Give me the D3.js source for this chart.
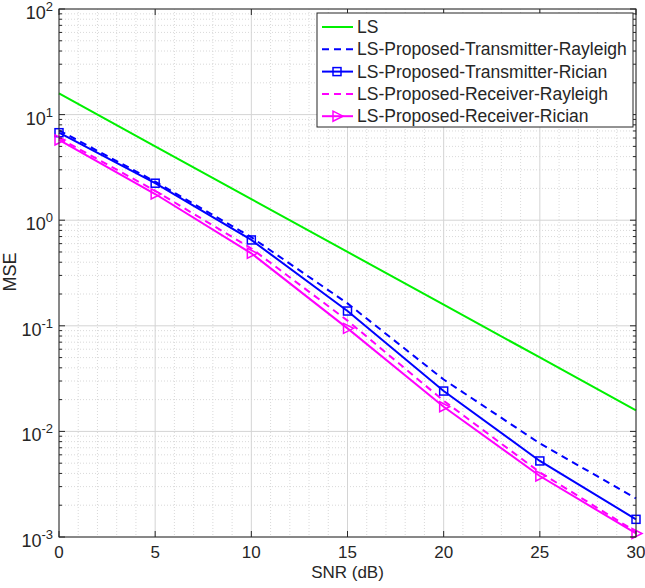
<!DOCTYPE html>
<html>
<head>
<meta charset="utf-8">
<script src="https://cdn.jsdelivr.net/npm/d3@7/dist/d3.min.js"></script>
<style>
  body { margin: 0; background: #fff; }
  text { font-family: "Liberation Sans", Arial, sans-serif; fill: #262626; }
</style>
</head>
<body>
<div class="chart"></div>
<script>
// data
var snr = [0, 5, 10, 15, 20, 25, 30];
var ls = [15.85, 5.01, 1.585, 0.501, 0.1585, 0.0501, 0.01585];
var txRayleigh = [7.1, 2.32, 0.69, 0.163, 0.031, 0.0077, 0.00232];
var txRician = [6.74, 2.24, 0.65, 0.138, 0.0241, 0.00525, 0.00147];
var rxRayleigh = [6.0, 1.9, 0.54, 0.112, 0.0195, 0.0041, 0.00112];
var rxRician = [5.75, 1.77, 0.486, 0.0946, 0.0171, 0.00378, 0.00108];

var seriesNames = [
  "LS",
  "LS-Proposed-Transmitter-Rayleigh",
  "LS-Proposed-Transmitter-Rician",
  "LS-Proposed-Receiver-Rayleigh",
  "LS-Proposed-Receiver-Rician"
];
var xTicks = [0, 5, 10, 15, 20, 25, 30];
var yExponents = [-3, -2, -1, 0, 1, 2];

var series = [
  { name: seriesNames[0], values: ls, color: "#00f000", dash: null, marker: null },
  { name: seriesNames[1], values: txRayleigh, color: "#0000ff", dash: "7,5", marker: null },
  { name: seriesNames[2], values: txRician, color: "#0000ff", dash: null, marker: "square" },
  { name: seriesNames[3], values: rxRayleigh, color: "#ff00ff", dash: "7,5", marker: null },
  { name: seriesNames[4], values: rxRician, color: "#ff00ff", dash: null, marker: "triangle" }
];

var svgWidth = 645, svgHeight = 588;
var margin = { top: 9, right: 9, bottom: 51, left: 59 };
var width = svgWidth - margin.left - margin.right;
var height = svgHeight - margin.top - margin.bottom;

var svg = d3.select(".chart").append("svg")
  .attr("width", svgWidth)
  .attr("height", svgHeight);

var chart = svg.append("g")
  .attr("transform", "translate(" + margin.left + "," + margin.top + ")");

var x = d3.scaleLinear().domain([0, 30]).range([0, width]);
var y = d3.scaleLog().domain([1e-3, 1e2]).range([height, 0]);

// minor values
var xMinor = d3.range(0, 31, 1).filter(function(d) { return d % 5 !== 0; });
var yMinor = [];
yExponents.slice(0, -1).forEach(function(e) {
  for (var m = 2; m <= 9; m++) yMinor.push(m * Math.pow(10, e));
});

var grid = chart.append("g");
// minor grid (dotted)
grid.selectAll(".xminor").data(xMinor).enter().append("line")
  .attr("x1", function(d) { return x(d); }).attr("x2", function(d) { return x(d); })
  .attr("y1", 0).attr("y2", height)
  .attr("stroke", "#cfcfcf").attr("stroke-width", 0.8).attr("stroke-dasharray", "1,2");
grid.selectAll(".yminor").data(yMinor).enter().append("line")
  .attr("y1", function(d) { return y(d); }).attr("y2", function(d) { return y(d); })
  .attr("x1", 0).attr("x2", width)
  .attr("stroke", "#cfcfcf").attr("stroke-width", 0.8).attr("stroke-dasharray", "1,2");
// major grid
grid.selectAll(".xmajor").data(xTicks).enter().append("line")
  .attr("x1", function(d) { return x(d); }).attr("x2", function(d) { return x(d); })
  .attr("y1", 0).attr("y2", height)
  .attr("stroke", "#d4d4d4").attr("stroke-width", 1);
grid.selectAll(".ymajor").data(yExponents).enter().append("line")
  .attr("y1", function(d) { return y(Math.pow(10, d)); }).attr("y2", function(d) { return y(Math.pow(10, d)); })
  .attr("x1", 0).attr("x2", width)
  .attr("stroke", "#d4d4d4").attr("stroke-width", 1);

// lines
var line = d3.line()
  .x(function(d, i) { return x(snr[i]); })
  .y(function(d) { return y(d); });

series.forEach(function(s) {
  chart.append("path")
    .datum(s.values)
    .attr("fill", "none")
    .attr("stroke", s.color)
    .attr("stroke-width", 2)
    .attr("stroke-dasharray", s.dash)
    .attr("d", line);
});

function drawMarker(g, type, cx, cy, color) {
  if (type === "square") {
    g.append("rect")
      .attr("x", cx - 4).attr("y", cy - 4).attr("width", 8).attr("height", 8)
      .attr("fill", "none").attr("stroke", color).attr("stroke-width", 1.5);
  } else if (type === "triangle") {
    g.append("path")
      .attr("d", "M" + (cx - 4) + "," + (cy - 5) + "L" + (cx + 6) + "," + cy + "L" + (cx - 4) + "," + (cy + 5) + "Z")
      .attr("fill", "none").attr("stroke", color).attr("stroke-width", 1.5);
  }
}

series.forEach(function(s) {
  if (!s.marker) return;
  s.values.forEach(function(v, i) {
    drawMarker(chart, s.marker, x(snr[i]), y(v), s.color);
  });
});

// axes box and ticks (inward, all sides)
var axisColor = "#262626";
var axes = chart.append("g");
axes.append("rect")
  .attr("x", 0).attr("y", 0).attr("width", width).attr("height", height)
  .attr("fill", "none").attr("stroke", axisColor).attr("stroke-width", 1);

xTicks.forEach(function(t) {
  axes.append("line").attr("x1", x(t)).attr("x2", x(t)).attr("y1", height).attr("y2", height - 6)
    .attr("stroke", axisColor);
  axes.append("line").attr("x1", x(t)).attr("x2", x(t)).attr("y1", 0).attr("y2", 6)
    .attr("stroke", axisColor);
});
yExponents.forEach(function(e) {
  var yy = y(Math.pow(10, e));
  axes.append("line").attr("x1", 0).attr("x2", 6).attr("y1", yy).attr("y2", yy).attr("stroke", axisColor);
  axes.append("line").attr("x1", width).attr("x2", width - 6).attr("y1", yy).attr("y2", yy).attr("stroke", axisColor);
});
yMinor.forEach(function(v) {
  var yy = y(v);
  axes.append("line").attr("x1", 0).attr("x2", 3).attr("y1", yy).attr("y2", yy).attr("stroke", axisColor);
  axes.append("line").attr("x1", width).attr("x2", width - 3).attr("y1", yy).attr("y2", yy).attr("stroke", axisColor);
});

// tick labels
chart.append("g").selectAll("text").data(xTicks).enter().append("text")
  .attr("x", function(d) { return x(d); })
  .attr("y", height + 21)
  .attr("text-anchor", "middle")
  .style("font-size", "17px")
  .text(function(d) { return d; });

var yl = chart.append("g").selectAll("text").data(yExponents).enter().append("text")
  .attr("x", -6)
  .attr("y", function(d) { return y(Math.pow(10, d)) + 10; })
  .attr("text-anchor", "end")
  .style("font-size", "18px");
yl.append("tspan").text("10");
yl.append("tspan").attr("dy", -8).style("font-size", "13px").text(function(d) { return d; });

// axis titles
chart.append("text")
  .attr("x", width / 2)
  .attr("y", height + 41)
  .attr("text-anchor", "middle")
  .style("font-size", "17px")
  .text("SNR (dB)");

chart.append("text")
  .attr("transform", "rotate(-90)")
  .attr("x", -263)
  .attr("y", -43)
  .attr("text-anchor", "middle")
  .style("font-size", "18px")
  .text("MSE");

// legend
var legend = svg.append("g").attr("transform", "translate(317,13)");
legend.append("rect")
  .attr("width", 316).attr("height", 114)
  .attr("fill", "#fff").attr("stroke", axisColor).attr("stroke-width", 1);

series.forEach(function(s, i) {
  var ly = 14 + i * 22.3;
  legend.append("line")
    .attr("x1", 5).attr("x2", 36).attr("y1", ly).attr("y2", ly)
    .attr("stroke", s.color).attr("stroke-width", 2)
    .attr("stroke-dasharray", s.dash);
  if (s.marker) drawMarker(legend, s.marker, 20, ly, s.color);
  legend.append("text")
    .attr("x", 40).attr("y", ly + 6)
    .style("font-size", "17.5px")
    .text(s.name);
});
</script>
</body>
</html>
